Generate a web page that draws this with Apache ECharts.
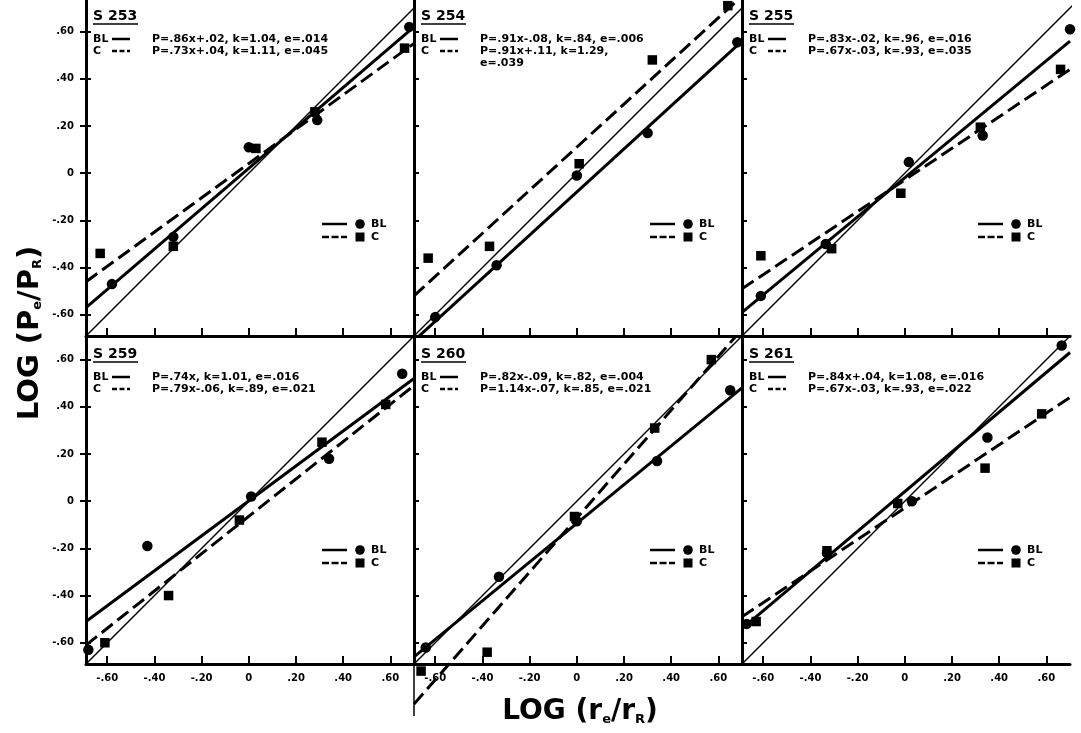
<!DOCTYPE html>
<html><head><meta charset="utf-8">
<script src="https://cdn.jsdelivr.net/npm/echarts@6/dist/echarts.min.js"></script>
<style>html,body{margin:0;padding:0;background:#fff}#c{width:1081px;height:733px}</style>
</head><body><div id="c"></div>
<script>
// ---- data ----
const tickValues = [-0.6, -0.4, -0.2, 0, 0.2, 0.4, 0.6];
const tickLabels = ['-.60', '-.40', '-.20', '0', '.20', '.40', '.60'];
const panelNames = ['S 253', 'S 254', 'S 255', 'S 259', 'S 260', 'S 261'];
const blEquations = ['P=.86x+.02, k=1.04, e=.014', 'P=.91x-.08, k=.84, e=.006', 'P=.83x-.02, k=.96, e=.016',
                     'P=.74x, k=1.01, e=.016', 'P=.82x-.09, k=.82, e=.004', 'P=.84x+.04, k=1.08, e=.016'];
const cEquations = ['P=.73x+.04, k=1.11, e=.045', 'P=.91x+.11, k=1.29,', 'P=.67x-.03, k=.93, e=.035',
                    'P=.79x-.06, k=.89, e=.021', 'P=1.14x-.07, k=.85, e=.021', 'P=.67x-.03, k=.93, e=.022'];
const cEquationsExtra = ['', 'e=.039', '', '', '', ''];

// points [log(r/rR), log(P/PR)]
const bl253 = [[-0.58, -0.47], [-0.32, -0.27], [0.0, 0.11], [0.29, 0.225], [0.68, 0.62]];
const c253  = [[-0.63, -0.34], [-0.32, -0.31], [0.03, 0.105], [0.28, 0.26], [0.66, 0.53]];
const bl254 = [[-0.60, -0.61], [-0.34, -0.39], [0.0, -0.01], [0.30, 0.17], [0.68, 0.555]];
const c254  = [[-0.63, -0.36], [-0.37, -0.31], [0.01, 0.04], [0.32, 0.48], [0.64, 0.71]];
const bl255 = [[-0.61, -0.52], [-0.335, -0.30], [0.017, 0.047], [0.33, 0.16], [0.70, 0.61]];
const c255  = [[-0.61, -0.35], [-0.31, -0.32], [-0.017, -0.085], [0.32, 0.195], [0.66, 0.44]];
const bl259 = [[-0.68, -0.63], [-0.43, -0.19], [0.01, 0.02], [0.34, 0.18], [0.65, 0.54]];
const c259  = [[-0.61, -0.60], [-0.34, -0.40], [-0.04, -0.08], [0.31, 0.25], [0.58, 0.41]];
const bl260 = [[-0.64, -0.62], [-0.33, -0.32], [0.0, -0.085], [0.34, 0.17], [0.65, 0.47]];
const c260  = [[-0.66, -0.72], [-0.38, -0.64], [-0.01, -0.065], [0.33, 0.31], [0.57, 0.60]];
const bl261 = [[-0.67, -0.52], [-0.33, -0.22], [0.03, 0.0], [0.35, 0.27], [0.665, 0.66]];
const c261  = [[-0.63, -0.51], [-0.33, -0.21], [-0.03, -0.01], [0.34, 0.14], [0.58, 0.37]];

// fitted lines, end points
const blFit253 = [[-0.69, -0.57], [0.70, 0.62]];
const cFit253  = [[-0.69, -0.46], [0.70, 0.55]];
const blFit254 = [[-0.69, -0.71], [0.70, 0.56]];
const cFit254  = [[-0.69, -0.52], [0.70, 0.75]];
const blFit255 = [[-0.69, -0.59], [0.70, 0.56]];
const cFit255  = [[-0.69, -0.49], [0.70, 0.44]];
const blFit259 = [[-0.69, -0.51], [0.70, 0.52]];
const cFit259  = [[-0.69, -0.61], [0.70, 0.49]];
const blFit260 = [[-0.69, -0.66], [0.70, 0.48]];
const cFit260  = [[-0.69, -0.86], [0.675, 0.70]];
const blFit261 = [[-0.69, -0.54], [0.70, 0.63]];
const cFit261  = [[-0.69, -0.49], [0.70, 0.44]];
const identityLine = [[-0.69, -0.69], [0.75, 0.75]];
const frameExtension260 = [[-0.69, -0.69], [-0.69, -0.91]];

const blPoints = [bl253, bl254, bl255, bl259, bl260, bl261];
const cPoints = [c253, c254, c255, c259, c260, c261];
const blFits = [blFit253, blFit254, blFit255, blFit259, blFit260, blFit261];
const cFits = [cFit253, cFit254, cFit255, cFit259, cFit260, cFit261];

// ---- layout ----
const FONT = 'DejaVu Sans';
const lefts = [86, 414, 742];
const panelW = 328;
const rows = [{top: 0, height: 336, yMax: 0.734, sY: 16, blY: 39, cY: 51, legY: 224},
              {top: 336, height: 328, yMax: 0.70, sY: 354, blY: 377, cY: 389, legY: 550}];
const xMin = -0.69, xMax = 0.70, yMin = -0.69;

const fmt = v => {
  const i = tickValues.findIndex(t => Math.abs(t - v) < 1e-6);
  return i >= 0 ? tickLabels[i] : '';
};

const grids = [], xAxes = [], yAxes = [], series = [], graphics = [];
for (let p = 0; p < 6; p++) {
  const col = p % 3, row = rows[Math.floor(p / 3)], bottomRow = p >= 3;
  const L = lefts[col];
  grids.push({left: L, top: row.top, width: panelW, height: row.height});
  xAxes.push({
    type: 'value', gridIndex: p, min: xMin, max: xMax,
    axisLine: {show: true, onZero: false, lineStyle: {color: '#000', width: 3}},
    axisTick: {show: true, inside: true, length: 8, customValues: tickValues, lineStyle: {color: '#000', width: 2}},
    axisLabel: {show: bottomRow, customValues: tickValues, formatter: fmt, margin: 9,
                color: '#000', fontFamily: FONT, fontWeight: 'bold', fontSize: 10},
    splitLine: {show: false}
  });
  const yIdx = yAxes.length;
  yAxes.push({
    type: 'value', gridIndex: p, min: yMin, max: row.yMax,
    axisLine: {show: true, onZero: false, lineStyle: {color: '#000', width: 3}},
    axisTick: {show: true, inside: true, length: 5, customValues: tickValues, lineStyle: {color: '#000', width: 2}},
    axisLabel: {show: false},
    splitLine: {show: false}
  });
  if (col === 0) {
    yAxes.push({
      type: 'value', gridIndex: p, min: yMin, max: row.yMax, position: 'left',
      axisLine: {show: false, onZero: false},
      axisTick: {show: true, inside: false, length: 6, customValues: tickValues, lineStyle: {color: '#000', width: 2}},
      axisLabel: {show: true, customValues: tickValues, formatter: fmt, margin: 12,
                  color: '#000', fontFamily: FONT, fontWeight: 'bold', fontSize: 10},
      splitLine: {show: false}
    });
  }
  const common = {xAxisIndex: p, yAxisIndex: yIdx, symbol: 'none', silent: true, animation: false};
  series.push(Object.assign({type: 'line', data: identityLine, lineStyle: {color: '#000', width: 1.4}, z: 2}, common));
  series.push(Object.assign({type: 'line', data: blFits[p], lineStyle: {color: '#000', width: 3}, z: 3}, common));
  series.push(Object.assign({type: 'line', data: cFits[p], clip: p !== 4,
    lineStyle: {color: '#000', width: 3, type: [14, 6]}, z: 3}, common));
  if (p === 4) {
    series.push(Object.assign({type: 'line', data: frameExtension260, clip: false,
      lineStyle: {color: '#000', width: 1.5}, z: 2}, common));
  }
  series.push({type: 'scatter', name: 'BL', xAxisIndex: p, yAxisIndex: yIdx, data: blPoints[p],
    symbol: 'circle', symbolSize: 10.5, itemStyle: {color: '#000', opacity: 1}, z: 5, clip: false, silent: true, animation: false});
  series.push({type: 'scatter', name: 'C', xAxisIndex: p, yAxisIndex: yIdx, data: cPoints[p],
    symbol: 'rect', symbolSize: 9.5, itemStyle: {color: '#000', opacity: 1}, z: 5, clip: false, silent: true, animation: false});

  // panel header and equations
  const txt = (x, y, text, size) => ({type: 'text', z: 10, silent: true,
    style: {x: x, y: y, text: text, fill: '#000', font: 'bold ' + size + 'px "' + FONT + '"',
            textAlign: 'left', textVerticalAlign: 'middle'}});
  const ln = (x1, y1, x2, y2, w, dash) => ({type: 'line', z: 10, silent: true,
    shape: {x1: x1, y1: y1, x2: x2, y2: y2}, style: {stroke: '#000', lineWidth: w, lineDash: dash || null}});
  graphics.push(txt(L + 7, row.sY, panelNames[p], 14));
  graphics.push(ln(L + 7, row.sY + 8, L + 52, row.sY + 8, 1.5));
  graphics.push(txt(L + 7, row.blY, 'BL', 11));
  graphics.push(ln(L + 26, row.blY, L + 44, row.blY, 2.5));
  graphics.push(txt(L + 66, row.blY, blEquations[p], 11));
  graphics.push(txt(L + 7, row.cY, 'C', 11));
  graphics.push(ln(L + 26, row.cY, L + 44, row.cY, 2.5, [5, 2.5]));
  graphics.push(txt(L + 66, row.cY, cEquations[p], 11));
  if (cEquationsExtra[p]) graphics.push(txt(L + 66, row.cY + 12, cEquationsExtra[p], 11));
  // in-panel key
  const k1 = row.legY, k2 = row.legY + 13;
  graphics.push(ln(L + 236, k1, L + 261, k1, 2.5));
  graphics.push({type: 'circle', z: 10, silent: true, shape: {cx: L + 274, cy: k1, r: 4.8}, style: {fill: '#000'}});
  graphics.push(txt(L + 285, k1, 'BL', 11));
  graphics.push(ln(L + 236, k2, L + 261, k2, 2.5, [7, 2.5]));
  graphics.push({type: 'rect', z: 10, silent: true, shape: {x: L + 269.5, y: k2 - 4.5, width: 9, height: 9}, style: {fill: '#000'}});
  graphics.push(txt(L + 285, k2, 'C', 11));
}

// axis titles
graphics.push({type: 'text', z: 10, silent: true, x: 30, y: 333, rotation: Math.PI / 2,
  style: {x: 0, y: 0, text: 'LOG (P{s|e}/P{s|R})', fill: '#000', font: 'bold 29px "' + FONT + '"',
          textAlign: 'center', textVerticalAlign: 'middle',
          rich: {s: {fontSize: 13, fontWeight: 'bold', fontFamily: FONT, verticalAlign: 'bottom', fill: '#000'}}}});
graphics.push({type: 'text', z: 10, silent: true, x: 580, y: 712,
  style: {x: 0, y: 0, text: 'LOG (r{s|e}/r{s|R})', fill: '#000', font: 'bold 28px "' + FONT + '"',
          textAlign: 'center', textVerticalAlign: 'middle',
          rich: {s: {fontSize: 13, fontWeight: 'bold', fontFamily: FONT, verticalAlign: 'bottom', fill: '#000'}}}});

const chart = echarts.init(document.getElementById('c'), null, {renderer: 'canvas'});
chart.setOption({
  animation: false,
  backgroundColor: '#fff',
  grid: grids, xAxis: xAxes, yAxis: yAxes, series: series, graphic: graphics
});
</script></body></html>
